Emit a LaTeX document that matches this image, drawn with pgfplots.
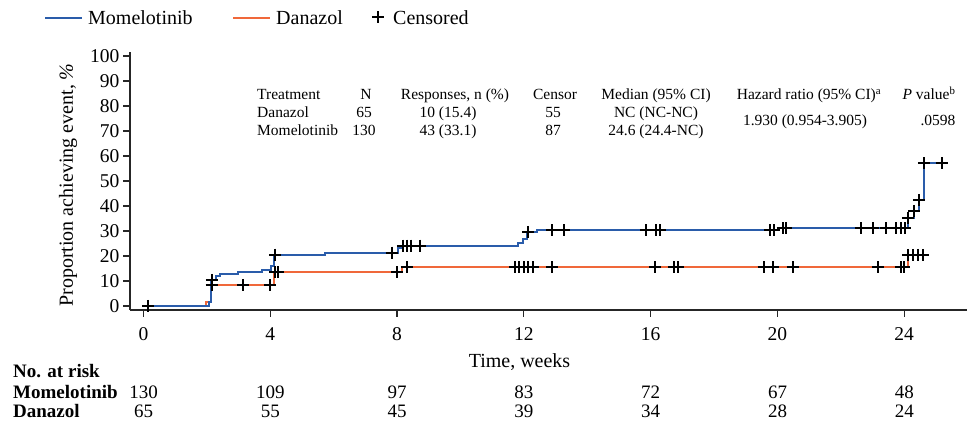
\documentclass[border=0pt]{standalone}
\usepackage{pgfplots}
\pgfplotsset{compat=1.18}
\usepackage{fontspec}
\setmainfont{Liberation Serif}
\definecolor{mblue}{RGB}{42,92,170}
\definecolor{morange}{RGB}{240,104,58}
\begin{document}
\begin{tikzpicture}[x=1pt,y=1pt]
\useasboundingbox (0,0) rectangle (967,428);
\begin{axis}[
  at={(130pt,118pt)}, anchor=south west,
  scale only axis, width=837pt, height=258pt,
  xmin=-0.426, xmax=25.98, ymin=-1.6, ymax=101.6,
  axis x line=bottom, axis y line=left,
  axis line style={-, line width=1.2pt, black!85},
  xtick={0,4,...,24}, ytick={0,10,...,100},
  xticklabels={\textrm{0},\textrm{4},\textrm{8},\textrm{12},\textrm{16},\textrm{20},\textrm{24}},
  yticklabels={\textrm{0},\textrm{10},\textrm{20},\textrm{30},\textrm{40},\textrm{50},\textrm{60},\textrm{70},\textrm{80},\textrm{90},\textrm{100}},
  tick align=outside, major tick length=7pt,
  tick style={line width=1.2pt, black!85},
  ticklabel style={font=\rmfamily\fontsize{19.5}{19.5}\selectfont},
  xticklabel style={yshift=-7pt},
  clip=false,
]
% Danazol step curve
\addplot[const plot, morange, line width=2pt] coordinates {
(0,0) (1.97,1.7) (2.12,8.4) (4.12,13.5) (8.15,15.5) (24.13,20.4) (24.6,20.4)};
% Momelotinib step curve
\addplot[const plot, mblue, line width=2pt] coordinates {
(0,0) (2.06,1.6) (2.12,10.4) (2.29,12.0) (2.41,12.9) (2.98,13.6) (3.74,14.4)
(4.01,16.0) (4.12,20.5) (5.73,21.3) (8.03,23.2) (8.12,24.1) (11.83,25.0)
(11.97,26.7) (12.09,29.6) (12.4,30.3) (20.01,31.1) (24.13,35.1) (24.31,38.0)
(24.47,42.4) (24.62,57.1) (25.18,57.1)};
% Censored - Danazol
\addplot[only marks, mark=+, mark size=6pt, line width=2pt, black] coordinates {
(0.15,0)
(2.15,8.4) (3.15,8.4) (3.99,8.4) (4.15,13.5) (4.24,13.5) (8.0,13.5) (8.3,15.5)
(11.72,15.5) (11.85,15.5) (12.0,15.5) (12.14,15.5) (12.28,15.5) (12.88,15.5)
(16.14,15.5) (16.74,15.5) (16.86,15.5) (19.56,15.5) (19.87,15.5) (20.48,15.5)
(23.18,15.5) (23.89,15.5) (24.0,15.5)
(24.13,20.4) (24.28,20.4) (24.44,20.4) (24.6,20.4)};
% Censored - Momelotinib
\addplot[only marks, mark=+, mark size=6pt, line width=2pt, black] coordinates {
(2.16,10.4) (4.15,20.5) (7.83,21.3) (8.18,24.1) (8.3,24.1) (8.43,24.1) (8.72,24.1)
(12.14,29.6) (12.88,30.3) (13.27,30.3) (15.85,30.3) (16.17,30.3) (16.29,30.3)
(19.76,30.3) (19.89,30.3) (20.16,31.1) (20.27,31.1)
(22.63,31.1) (23.0,31.1) (23.44,31.1) (23.74,31.1) (23.89,31.1) (24.02,31.1)
(24.13,35.1) (24.31,38.0) (24.47,42.4) (24.62,57.1) (25.18,57.1)};
\end{axis}

% legend
\begin{scope}[every node/.style={font=\fontsize{20}{20}\selectfont, inner sep=0pt, anchor=base west}]
\draw[mblue, line width=2pt] (45,410) -- (82,410);
\node at (88,403.5) {Momelotinib};
\draw[morange, line width=2pt] (233,410) -- (270,410);
\node at (276,403.5) {Danazol};
\draw[black, line width=2.2pt] (372,411) -- (384,411) (378,405) -- (378,417);
\node at (393,403.5) {Censored};
\end{scope}

% y label
\node[rotate=90, font=\fontsize{20}{20}\selectfont, inner sep=0pt] at (68,243) {Proportion achieving event, \textit{\%}};
% x label
\node[anchor=base, font=\fontsize{20}{20}\selectfont, inner sep=0pt] at (519.5,60) {Time, weeks};

% in-plot table
\begin{scope}[every node/.style={font=\fontsize{15.5}{15.5}\selectfont, inner sep=0pt, anchor=base}]
\node[anchor=base west] at (257,328) {Treatment};
\node at (366,328) {N};
\node at (455,328) {Responses, n (\%)};
\node at (555,328) {Censor};
\node at (656,328) {Median (95\% CI)};
\node at (809,328) {Hazard ratio (95\% CI)\textsuperscript{a}};
\node at (929,328) {\textit{P} value\textsuperscript{b}};
\node[anchor=base west] at (257,310) {Danazol};
\node at (364,310) {65};
\node at (448,310) {10 (15.4)};
\node at (553,310) {55};
\node at (656,310) {NC (NC-NC)};
\node[anchor=base west] at (257,292.5) {Momelotinib};
\node at (364,292.5) {130};
\node at (448,292.5) {43 (33.1)};
\node at (553,292.5) {87};
\node at (656,292.5) {24.6 (24.4-NC)};
\node at (805,302) {1.930 (0.954-3.905)};
\node at (938,302) {.0598};
\end{scope}

% number at risk
\begin{scope}[every node/.style={font=\fontsize{19}{19}\selectfont, inner sep=0pt, anchor=base}]
\node[anchor=base west] at (13,50) {\textbf{No. at risk}};
\node[anchor=base west] at (13,29) {\textbf{Momelotinib}};
\node[anchor=base west] at (13,10) {\textbf{Danazol}};
\foreach \x/\a/\b in {143.5/130/65, 270.3/109/55, 397.1/97/45, 523.9/83/39, 650.7/72/34, 777.5/67/28, 904.3/48/24} {
  \node at (\x,29) {\a};
  \node at (\x,10) {\b};
}
\end{scope}
\end{tikzpicture}
\end{document}
